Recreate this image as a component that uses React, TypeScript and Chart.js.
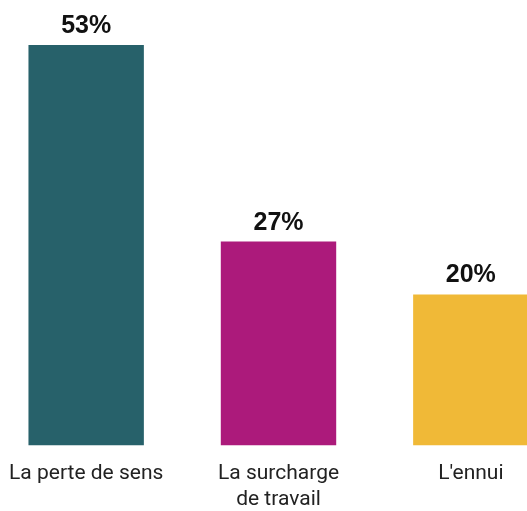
import React, { useEffect, useRef } from "react";
import { Chart, registerables } from "chart.js";

Chart.register(...registerables);

const categories: (string | string[])[] = ["La perte de sens", ["La surcharge", "de travail"], "L'ennui"];
const values = [53, 27, 20];
const colors = ["#27616a", "#ac1a7b", "#f0b937"];

const valueLabels = {
  id: "valueLabels",
  afterDatasetsDraw(chart: any) {
    const ctx = chart.ctx;
    const meta = chart.getDatasetMeta(0);
    ctx.save();
    ctx.font = "bold 25px 'Liberation Sans', Arial, sans-serif";
    ctx.fillStyle = "#111111";
    ctx.textAlign = "center";
    ctx.textBaseline = "alphabetic";
    meta.data.forEach((bar: any, i: number) => {
      ctx.fillText(values[i] + "%", bar.x, bar.y - 12);
    });
    ctx.restore();
  },
};

export default function App() {
  const ref = useRef<HTMLCanvasElement>(null);
  useEffect(() => {
    if (!ref.current) return;
    const chart = new Chart(ref.current, {
      type: "bar",
      data: {
        labels: categories,
        datasets: [
          {
            data: values,
            backgroundColor: colors,
            borderWidth: 0,
            barPercentage: 1,
            categoryPercentage: 0.6,
          },
        ],
      },
      options: {
        animation: false,
        responsive: false,
        maintainAspectRatio: false,
        layout: { padding: { top: 45, left: 0, right: 0, bottom: 0 } },
        plugins: { legend: { display: false }, tooltip: { enabled: false } },
        scales: {
          y: { display: false, min: 0, max: 53 },
          x: {
            grid: { display: false, drawTicks: false },
            border: { display: false },
            ticks: {
              color: "#222222",
              padding: 16,
              maxRotation: 0,
              autoSkip: false,
              font: { family: "Roboto, sans-serif", size: 21, lineHeight: 1.2 },
            },
          },
        },
      },
      plugins: [valueLabels],
    });
    return () => chart.destroy();
  }, []);
  return (
    <div style={{ position: "fixed", left: 0, top: 0, width: 527, height: 511, overflow: "hidden", background: "#fff" }}>
      <canvas ref={ref} width={577} height={528} style={{ position: "absolute", left: -10, top: 0, width: 577, height: 528 }} />
    </div>
  );
}
